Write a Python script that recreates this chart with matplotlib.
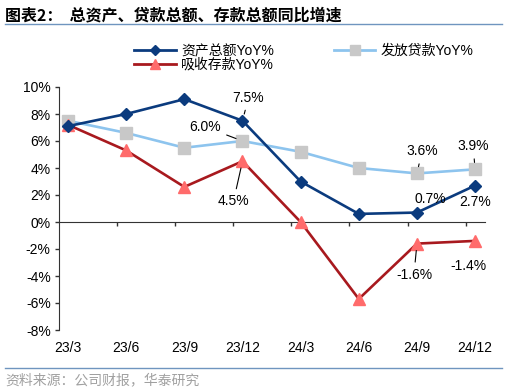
import matplotlib
matplotlib.use("Agg")
import matplotlib.pyplot as plt
from matplotlib.lines import Line2D
import numpy as np

plt.rcParams['font.family'] = ['Liberation Sans', 'Noto Sans CJK SC', 'DejaVu Sans']

categories = ["23/3", "23/6", "23/9", "23/12", "24/3", "24/6", "24/9", "24/12"]
assets = [7.1, 8.0, 9.1, 7.5, 3.0, 0.6, 0.7, 2.7]
loans = [7.5, 6.6, 5.5, 6.0, 5.2, 4.0, 3.6, 3.9]
deposits = [7.2, 5.3, 2.6, 4.5, 0.0, -5.7, -1.6, -1.4]
yticks = [-8, -6, -4, -2, 0, 2, 4, 6, 8, 10]

c_assets = "#0B3B7E"
c_loans_line = "#8DC4EE"
c_loans_mk = "#C8C8C8"
c_dep_line = "#A8191E"
c_dep_mk = "#FF6B6B"

fig = plt.figure(figsize=(5.07, 3.92), dpi=100)
ax = fig.add_axes([59/507, 1-330/392, (485-59)/507, (330-87)/392])

x = np.arange(len(categories))
ax.plot(x, loans, color=c_loans_line, lw=1.9, marker='s', ms=8.5,
        mfc=c_loans_mk, mec=c_loans_mk, zorder=3)
ax.plot(x, deposits, color=c_dep_line, lw=1.9, marker='^', ms=9,
        mfc=c_dep_mk, mec=c_dep_mk, zorder=4)
ax.plot(x, assets, color=c_assets, lw=1.9, marker='D', ms=6,
        mfc=c_assets, mec=c_assets, zorder=5)

ax.set_xlim(-0.155, 7.17)
ax.set_ylim(-8, 10)
ax.set_yticks(yticks)
ax.set_yticklabels([f"{v}%" for v in yticks], fontsize=10)
ax.tick_params(axis='y', direction='out', length=3, width=1, color='#333333', pad=3)

for s in ['top', 'right']:
    ax.spines[s].set_visible(False)
ax.spines['left'].set_color('#333333')
ax.spines['bottom'].set_position(('data', 0))
ax.spines['bottom'].set_color('#333333')
ax.set_xticks([i - 0.16 for i in range(1, len(categories))])
ax.set_xticklabels([])
ax.tick_params(axis='x', direction='out', length=3, width=1, color='#333333')

sec = ax.secondary_xaxis(location=0)
sec.set_xticks(x)
sec.set_xticklabels(categories, fontsize=10)
sec.tick_params(length=0, pad=8)
sec.spines['bottom'].set_visible(False)

def ann(txt, xi, yi, dx, dy, line=True):
    kw = dict(textcoords='offset pixels', ha='center', va='center', fontsize=10, zorder=6)
    if line:
        kw['arrowprops'] = dict(arrowstyle='-', color='black', lw=0.8, shrinkA=2, shrinkB=5)
    ax.annotate(txt, xy=(xi, yi), xytext=(dx, dy), **kw)

ann("7.5%", 3, assets[3], 6, 23)
ann("6.0%", 3, loans[3], -37, 14)
ann("4.5%", 3, deposits[3], -9, -40)
ann("3.6%", 6, loans[6], 5, 22)
ann("3.9%", 7, loans[7], -2, 23)
ann("0.7%", 6, assets[6], 13, 14, line=False)
ann("2.7%", 7, assets[7], 0, -16, line=False)
ann("-1.6%", 6, deposits[6], -3, -31)
ann("-1.4%", 7, deposits[7], -7, -25, line=False)

handles = [
    Line2D([], [], color=c_assets, lw=2, marker='D', ms=5, mfc=c_assets, mec=c_assets),
    Line2D([], [], color=c_dep_line, lw=2, marker='^', ms=7, mfc=c_dep_mk, mec=c_dep_mk),
    Line2D([], [], color=c_loans_line, lw=2, marker='s', ms=7, mfc=c_loans_mk, mec=c_loans_mk),
]
labels = ["资产总额YoY%", "吸收存款YoY%", "发放贷款YoY%"]
fig.legend(handles, labels, loc='upper left', bbox_to_anchor=(134/507, 1-44/392),
           ncol=2, frameon=False, fontsize=10, handlelength=3.0, handletextpad=0.4,
           columnspacing=4.3, borderpad=0, borderaxespad=0, labelspacing=0.0)

fig.text(5/507, 1-15/392, "图表2：  总资产、贷款总额、存款总额同比增速", fontsize=11.5,
         fontweight='bold', ha='left', va='center', family=['Noto Sans CJK SC', 'DejaVu Sans'])
fig.add_artist(Line2D([5/507, 502/507], [1-24/392, 1-24/392], color='#6F95BF', lw=1))
fig.add_artist(Line2D([5/507, 502/507], [1-368/392, 1-368/392], color='#6F95BF', lw=1))
fig.text(5/507, 1-380/392, "资料来源：公司财报，华泰研究", fontsize=10, color='#A0A0A0',
         ha='left', va='center', family=['Noto Sans CJK SC', 'DejaVu Sans'])

fig.savefig("out.png", dpi=100)
